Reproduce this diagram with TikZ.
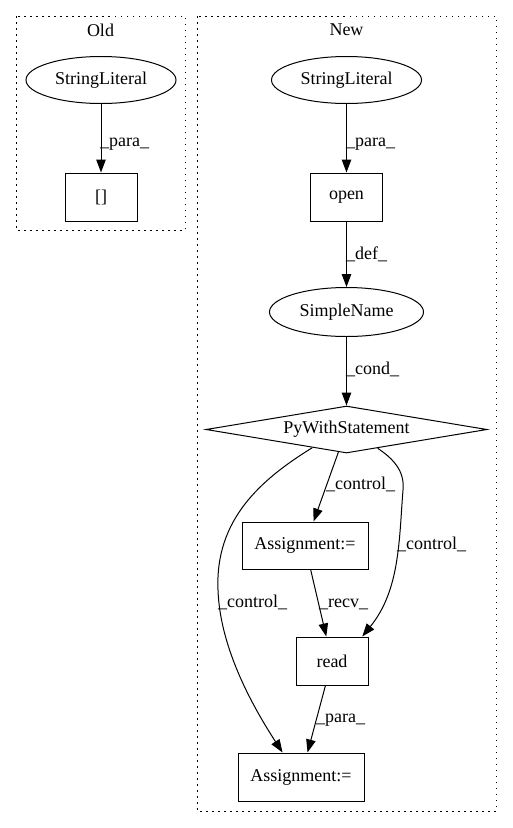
\documentclass[tikz,border=0pt]{standalone}
\usepackage{fontspec}
\setmainfont{Liberation Serif}
\usetikzlibrary{shapes.geometric,arrows.meta}
\begin{document}
\begin{tikzpicture}[x=1pt,y=-1pt,
  every node/.style={font=\fontsize{18}{20}\selectfont},
  ell/.style={draw,ellipse,line width=1pt,inner sep=0pt,minimum width=150pt,minimum height=47pt},
  box/.style={draw,rectangle,line width=1pt,inner sep=0pt,minimum height=48pt},
  dia/.style={draw,diamond,aspect=6,line width=1pt,inner sep=0pt,minimum width=281pt,minimum height=47pt},
  edge/.style={draw,line width=1pt,-{Triangle[length=13pt,width=9.5pt]}},
  lbl/.style={anchor=base west,inner sep=0pt},
  cluster/.style={draw,dash pattern=on 1.5pt off 4.5pt,line width=1pt}
]
\useasboundingbox (0,0) rectangle (512,828);
% clusters
\draw[cluster] (16,16) rectangle (185,230);
\draw[cluster] (197,16) rectangle (496,811);
\node (tOld) at (100.5,30) {Old};
\node (tNew) at (346.5,30) {New};
% Old
\node[ell] (sl1) at (101,80) {StringLiteral};
\node[box,minimum width=72pt] (b1) at (101,197) {[]};
\draw[edge] (sl1) -- (b1);
\node[lbl] (l1) at (100,146) {\_para\_};
% New
\node[ell] (sl2) at (346.5,80) {StringLiteral};
\node[box,minimum width=72pt] (open) at (346.5,197) {open};
\node[ell,minimum width=154pt,minimum height=49pt] (sn) at (346.5,312) {SimpleName};
\node[dia] (pws) at (346.5,429.5) {PyWithStatement};
\node[box,minimum width=126pt,minimum height=47pt] (a1) at (305,545.5) {Assignment:=};
\node[box,minimum width=72pt] (rd) at (332,661) {read};
\node[box,minimum width=126pt] (a2) at (301,777) {Assignment:=};

\draw[edge] (sl2) -- (open);
\node[lbl] (l2) at (346,146) {\_para\_};
\draw[edge] (open) -- (sn);
\node[lbl] (l3) at (346,259) {\_def\_};
\draw[edge] (sn) -- (pws);
\node[lbl] (l4) at (346,374) {\_cond\_};
\draw[edge] (pws) -- (a1);
\node[lbl] (l5) at (326,489) {\_control\_};
\draw[edge] (pws.-31.5) .. controls (392,458) and (405,470) .. (403,490)
  .. controls (399,540) and (400,590) .. (rd.39.6);
\node[lbl] (l6) at (397,549) {\_control\_};
\draw[edge] (pws.-152) .. controls (260,480) and (215,520) .. (218,590)
  .. controls (220,650) and (255,710) .. (a2.127);
\node[lbl] (l7) at (218,607) {\_control\_};
\draw[edge] (a1) -- (rd);
\node[lbl] (l8) at (319,607) {\_recv\_};
\draw[edge] (rd) -- (a2);
\node[lbl] (l9) at (316,722) {\_para\_};
\end{tikzpicture}
\end{document}
